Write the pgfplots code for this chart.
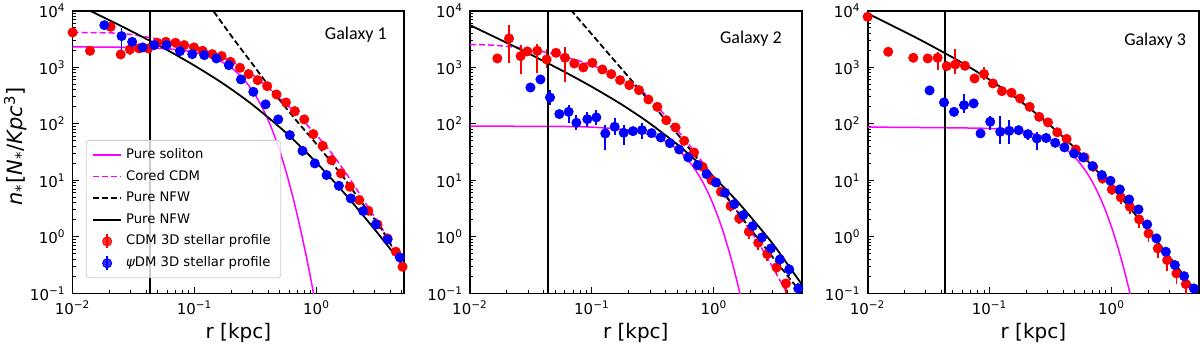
\documentclass[border=0pt]{standalone}
\usepackage{fontspec}
\setmainfont{DejaVu Sans}
\newfontfamily\carlito{Carlito}
\usepackage{pgfplots}
\usepackage{pgfplotstable}
\pgfplotsset{compat=1.18}
\definecolor{mag}{RGB}{255,0,255}

% ---- Galaxy 1 ----
\pgfplotstableread{
r n ep em
0.0100 4140 500 500
0.0139 1960 250 250
0.0205 5210 600 600
0.0248 1690 250 250
0.0295 2070 400 400
0.0350 2160 300 300
0.0417 2160 300 300
0.0494 2720 300 300
0.0582 2830 300 300
0.0698 2720 300 300
0.0822 2470 250 250
0.0989 2250 230 230
0.1164 1960 200 200
0.1396 1710 170 170
0.1667 1580 160 160
0.1970 1253 120 120
0.2355 982 100 100
0.2773 759 75 75
0.329 594 60 60
0.394 465 45 45
0.470 331 33 33
0.561 239 24 24
0.664 168 17 17
0.793 120 12 12
0.940 65.8 7 7
1.122 40.9 4 4
1.327 22.8 2.3 2.3
1.585 13.3 1.3 1.3
1.875 7.71 0.8 0.8
2.239 4.48 0.45 0.45
2.655 2.90 0.3 0.3
3.162 1.66 0.17 0.17
3.819 0.94 0.1 0.1
4.467 0.546 0.06 0.06
5.07 0.296 0.03 0.03
}\redA
\pgfplotstableread{
r n ep em
0.0182 5570 800 800
0.0252 3565 1333 1921
0.0308 2825 500 500
0.0375 2249 300 300
0.0467 2472 300 300
0.0589 2472 250 250
0.0759 1936 200 200
0.0957 1710 170 170
0.120 1644 160 160
0.151 1435 140 140
0.191 1094 110 110
0.240 611 60 60
0.303 369 37 37
0.382 221 22 22
0.485 120 12 12
0.604 63.2 6 6
0.767 33.3 3.5 3.5
0.968 19.95 2 2
1.208 12.4 1.3 1.3
1.524 8.02 0.8 0.8
1.910 4.79 0.5 0.5
2.410 2.86 0.3 0.3
3.062 1.66 0.17 0.17
3.819 0.902 0.09 0.09
4.82 0.433 0.045 0.045
}\blueA

% ---- Galaxy 2 ----
\pgfplotstableread{
r n ep em
0.01675 1435 200 200
0.0209 3243 2380 2068
0.0260 1578 877 819
0.0295 1910 250 250
0.0356 1959 671 1165
0.0425 1377 761 422
0.0507 1807 250 250
0.0601 1476 815 926
0.0716 1169 150 150
0.0849 995 130 130
0.1007 1202 150 150
0.1216 916 100 100
0.1439 759 80 80
0.170 594 60 60
0.2023 484 50 50
0.2427 395 40 40
0.290 270 27 27
0.3436 200 20 20
0.4064 116 12 12
0.484 86.3 9 9
0.570 50.1 5 5
0.686 31.2 4 4
0.807 17.4 2.5 2.5
0.955 10.1 1.5 1.5
1.140 6.28 1 1
1.368 3.51 0.6 0.8
1.611 2.12 0.35 0.45
1.932 1.233 0.2 0.3
2.307 0.787 0.13 0.2
2.735 0.497 0.08 0.13
3.258 0.288 0.05 0.08
3.890 0.150 0.03 0.05
}\redB
\pgfplotstableread{
r n ep em
0.0313 440 50 50
0.0378 610 60 60
0.0453 293 102 79
0.0540 149 20 20
0.0644 163 51 61
0.0745 104.5 38.5 27
0.0916 121 42 32
0.1086 130 45 35
0.1285 67.6 27.4 33.3
0.1535 88.7 36 25.7
0.182 69.5 25.5 27.5
0.2168 74.3 12 12
0.257 77.4 24.6 22.4
0.308 68.5 8 8
0.366 57.4 7 7
0.4355 45.6 6 6
0.519 35.2 5 5
0.615 25.5 3.5 3.5
0.7345 18.6 2.5 2.5
0.869 12.9 2 2
1.038 9.18 1.5 1.5
1.230 6.04 1 1
1.466 3.80 0.7 0.7
1.738 2.43 0.45 0.45
2.075 1.552 0.3 0.3
2.472 0.977 0.2 0.2
2.931 0.625 0.13 0.13
3.475 0.399 0.09 0.09
4.140 0.266 0.06 0.06
4.909 0.1225 0.03 0.03
}\blueB

% ---- Galaxy 3 ----
\pgfplotstableread{
r n ep em
0.0100 7830 800 800
0.01476 1884 200 200
0.0237 1476 150 150
0.0311 1435 250 250
0.0375 1476 386 564
0.0445 1050 150 150
0.0524 1125 945 349
0.0628 1064 150 150
0.0753 635 100 100
0.0900 759 240 170
0.1064 519 60 60
0.1262 379 60 60
0.1514 355 60 60
0.178 281 40 40
0.213 200 30 30
0.255 133 20 20
0.301 106 15 15
0.359 71.0 10 10
0.428 54.1 8 8
0.509 35.2 5 5
0.600 25.5 4 4
0.706 17.4 3 3
0.843 10.8 2 2
1.005 6.92 1.2 1.5
1.191 4.99 0.9 1.2
1.413 3.41 0.6 0.9
1.683 2.04 0.4 0.6
2.009 1.151 0.25 0.35
2.393 0.625 0.12 0.2
2.858 0.389 0.08 0.14
3.404 0.226 0.05 0.08
4.064 0.146 0.03 0.05
}\redC
\pgfplotstableread{
r n ep em
0.0322 390 40 40
0.0423 239 25 25
0.0511 163 17 17
0.0617 214 117 59
0.0740 230 25 25
0.0843 67.6 8 8
0.1012 109 26 31
0.1222 72.4 62.6 27.7
0.1449 75.3 41.7 30.6
0.173 77.4 15 15
0.206 65.8 13 13
0.244 55.2 16.8 20.2
0.291 56.2 8 8
0.345 46.2 7 7
0.411 38.3 6 6
0.493 29.9 4.5 4.5
0.585 25.5 4 4
0.698 17.9 3 3
0.832 12.4 2 2
0.979 9.84 1.6 1.6
1.169 6.92 1.2 1.2
1.393 4.60 0.8 0.8
1.663 3.06 0.55 0.55
1.959 1.66 0.3 0.3
2.333 0.94 0.18 0.18
2.786 0.546 0.1 0.1
3.304 0.317 0.06 0.06
3.936 0.202 0.04 0.04
4.721 0.1225 0.025 0.025
}\blueC

% common axis look
\pgfplotsset{
  every axis/.append style={
    scale only axis, width=165.8pt, height=141.3pt,
    xmin=0.01, xmax=5.23, ymin=0.1, ymax=10000,
    xtick={0.01,0.1,1},
    xticklabels={{10\textsuperscript{−2}},{10\textsuperscript{−1}},{10\textsuperscript{0}}},
    ytick={0.1,1,10,100,1000,10000},
    yticklabels={{10\textsuperscript{−1}},{10\textsuperscript{0}},{10\textsuperscript{1}},{10\textsuperscript{2}},{10\textsuperscript{3}},{10\textsuperscript{4}}},
    minor xtick={0.02,0.03,0.04,0.05,0.06,0.07,0.08,0.09,0.2,0.3,0.4,0.5,0.6,0.7,0.8,0.9,2,3,4,5},
    minor ytick={0.2,0.3,0.4,0.5,0.6,0.7,0.8,0.9,2,3,4,5,6,7,8,9,20,30,40,50,60,70,80,90,200,300,400,500,600,700,800,900,2000,3000,4000,5000,6000,7000,8000,9000},
    tick pos=left, tick align=inside,
    major tick length=3pt, minor tick length=1.6pt,
    tick style={black, line width=0.5pt},
    tick label style={font=\fontsize{7.5}{9}\selectfont},
    axis line style={line width=0.9pt},
    xlabel={r [kpc]},
    xlabel style={font=\fontsize{10}{12}\selectfont, at={(axis description cs:0.5,-0.141)}, anchor=center},
  },
}

\begin{document}
\begin{tikzpicture}
\useasboundingbox (0,0) rectangle (600pt,172.5pt);

% ---------- Galaxy 1 ----------
\begin{loglogaxis}[at={(36.3pt,25.8pt)}, anchor=south west,
  ylabel={\textit{n}\textsubscript{*}[\textit{N}\textsubscript{*}/\textit{Kpc}\textsuperscript{3}]},
  ylabel style={font=\fontsize{10.5}{12}\selectfont, at={(axis description cs:-0.172,0.52)}, anchor=center},
  legend cell align=left,
  legend style={at={(axis description cs:0.04,0.054)}, anchor=south west,
    font=\fontsize{6.6}{7.8}\selectfont, draw=black!20, fill=white, fill opacity=0.8,
    text opacity=1, rounded corners=1.5pt, row sep=0.4pt},
]
\addplot[forget plot, mag, line width=0.75pt, smooth] coordinates {(0.01,2300) (0.03,2254) (0.05,2175) (0.07,2062) (0.1,1843) (0.15,1409) (0.2,981) (0.25,631) (0.3,379) (0.35,216) (0.4,118) (0.45,62.7) (0.5,32.7) (0.55,16.8) (0.6,8.59) (0.65,4.40) (0.7,2.26) (0.75,1.17) (0.8,0.613) (0.85,0.324) (0.9,0.174) (0.95,0.094)};
\addplot[forget plot, mag, line width=0.75pt, dash pattern=on 3pt off 1.5pt, smooth] coordinates {(0.01,4140) (0.0251,3981) (0.0501,3162) (0.1,2291) (0.1778,1445) (0.2692,891) (0.4467,355) (0.7244,132) (1.202,39.8) (1.778,12.6) (2.512,3.98) (3.548,1.26) (5.25,0.251)};
\addplot[forget plot, black, line width=0.9pt, dash pattern=on 3pt off 1.5pt, smooth] coordinates {(0.13,13100) (0.1422,10000) (0.2075,3236) (0.3027,1096) (0.4416,369) (0.6442,133) (0.9397,51.3) (1.247,24.5) (1.652,11.5) (2.265,4.47) (3.311,1.51) (4.819,0.389) (5.25,0.302)};
\addplot[forget plot, black, line width=0.9pt, smooth] coordinates {(0.01,14100) (0.02,6826) (0.03,4408) (0.05,2485) (0.07,1670) (0.1,1070) (0.15,622) (0.2,410) (0.3,216) (0.5,86.8) (0.7,44.4) (1,20.5) (1.5,7.93) (2,3.88) (3,1.35) (4,0.620) (5.3,0.285)};
\addplot[forget plot, only marks, mark=*, red, mark size=2.3pt,
  error bars/.cd, y dir=both, y explicit, error mark=none, error bar style={line width=0.9pt}]
  table[x=r, y=n, y error plus=ep, y error minus=em] {\redA};
\addplot[forget plot, only marks, mark=*, blue, mark size=2.3pt,
  error bars/.cd, y dir=both, y explicit, error mark=none, error bar style={line width=0.9pt}]
  table[x=r, y=n, y error plus=ep, y error minus=em] {\blueA};
\addplot[forget plot, black, line width=1.0pt] coordinates {(0.0435,0.1) (0.0435,10000)};
\node[font=\carlito\fontsize{9}{10}\selectfont] at (axis description cs:0.854,0.914) {Galaxy 1};
\addlegendimage{legend image code/.code={\draw[mag, line width=0.75pt] (0pt,0pt) -- (14pt,0pt);}}
\addlegendentry{Pure soliton}
\addlegendimage{legend image code/.code={\draw[mag, line width=0.75pt, dash pattern=on 3pt off 1.5pt] (0pt,0pt) -- (14pt,0pt);}}
\addlegendentry{Cored CDM}
\addlegendimage{legend image code/.code={\draw[black, line width=0.9pt, dash pattern=on 3pt off 1.5pt] (0pt,0pt) -- (14pt,0pt);}}
\addlegendentry{Pure NFW}
\addlegendimage{legend image code/.code={\draw[black, line width=0.9pt] (0pt,0pt) -- (14pt,0pt);}}
\addlegendentry{Pure NFW}
\addlegendimage{legend image code/.code={\draw[red, line width=0.9pt] (7pt,-3.5pt) -- (7pt,3.5pt); \fill[red] (7pt,0pt) circle (2.3pt);}}
\addlegendentry{CDM 3D stellar profile}
\addlegendimage{legend image code/.code={\draw[blue, line width=0.9pt] (7pt,-3.5pt) -- (7pt,3.5pt); \fill[blue] (7pt,0pt) circle (2.3pt);}}
\addlegendentry{\textit{ψ}DM 3D stellar profile}
\end{loglogaxis}

% ---------- Galaxy 2 ----------
\begin{loglogaxis}[at={(235pt,25.8pt)}, anchor=south west]
\addplot[forget plot, mag, line width=0.75pt, smooth] coordinates {(0.01,91) (0.05,90.1) (0.1,87.4) (0.2,77.6) (0.3,63.8) (0.4,49.0) (0.5,35.2) (0.6,24.0) (0.7,15.6) (0.8,9.73) (0.9,5.89) (1.0,3.48) (1.1,2.02) (1.2,1.16) (1.3,0.659) (1.4,0.374) (1.5,0.212) (1.6,0.120) (1.65,0.0908)};
\addplot[forget plot, mag, line width=0.75pt, dash pattern=on 3pt off 1.5pt, smooth] coordinates {(0.01,2535) (0.01585,2455) (0.0316,2089) (0.0631,1479) (0.1,1096) (0.1585,692) (0.2512,398) (0.398,141) (0.631,41.7) (1.0,11.2) (1.585,2.63) (2.512,0.589) (3.98,0.1) (4.2,0.08)};
\addplot[forget plot, black, line width=0.9pt, dash pattern=on 3pt off 1.5pt, smooth] coordinates {(0.06,13700) (0.0681,10000) (0.1259,2138) (0.2512,380) (0.398,120) (0.631,36.3) (1,10) (1.995,1.38) (3.981,0.209) (5.23,0.1)};
\addplot[forget plot, black, line width=0.9pt, smooth] coordinates {(0.01,5570) (0.02,2718) (0.03,1769) (0.05,1012) (0.07,690) (0.1,451) (0.15,270) (0.2,183) (0.3,100.7) (0.5,43.3) (0.7,23.2) (1,11.3) (1.5,4.61) (2,2.25) (3,0.78) (4,0.33) (5.3,0.14)};
\addplot[forget plot, only marks, mark=*, red, mark size=2.3pt,
  error bars/.cd, y dir=both, y explicit, error mark=none, error bar style={line width=0.9pt}]
  table[x=r, y=n, y error plus=ep, y error minus=em] {\redB};
\addplot[forget plot, only marks, mark=*, blue, mark size=2.3pt,
  error bars/.cd, y dir=both, y explicit, error mark=none, error bar style={line width=0.9pt}]
  table[x=r, y=n, y error plus=ep, y error minus=em] {\blueB};
\addplot[forget plot, black, line width=1.0pt] coordinates {(0.0435,0.1) (0.0435,10000)};
\node[font=\carlito\fontsize{9}{10}\selectfont] at (axis description cs:0.847,0.902) {Galaxy 2};
\end{loglogaxis}

% ---------- Galaxy 3 ----------
\begin{loglogaxis}[at={(433.8pt,25.8pt)}, anchor=south west]
\addplot[forget plot, mag, line width=0.75pt, smooth] coordinates {(0.01,87.5) (0.1,83.0) (0.2,70.9) (0.3,55.0) (0.4,39.0) (0.5,25.6) (0.6,15.7) (0.7,9.17) (0.8,5.13) (0.9,2.79) (1.0,1.48) (1.1,0.779) (1.2,0.406) (1.3,0.212) (1.4,0.111) (1.45,0.080)};
\addplot[forget plot, black, line width=0.9pt, smooth] coordinates {(0.01,8970) (0.02,4274) (0.03,2718) (0.05,1489) (0.07,975) (0.1,603) (0.15,332) (0.2,209) (0.3,102.6) (0.5,37.2) (0.7,17.8) (1,7.69) (1.5,2.78) (2,1.31) (3,0.435) (4,0.195) (5.3,0.0876)};
\addplot[forget plot, only marks, mark=*, red, mark size=2.3pt,
  error bars/.cd, y dir=both, y explicit, error mark=none, error bar style={line width=0.9pt}]
  table[x=r, y=n, y error plus=ep, y error minus=em] {\redC};
\addplot[forget plot, only marks, mark=*, blue, mark size=2.3pt,
  error bars/.cd, y dir=both, y explicit, error mark=none, error bar style={line width=0.9pt}]
  table[x=r, y=n, y error plus=ep, y error minus=em] {\blueC};
\addplot[forget plot, black, line width=1.0pt] coordinates {(0.0435,0.1) (0.0435,10000)};
\node[font=\carlito\fontsize{9}{10}\selectfont] at (axis description cs:0.867,0.893) {Galaxy 3};
\end{loglogaxis}
\end{tikzpicture}
\end{document}
